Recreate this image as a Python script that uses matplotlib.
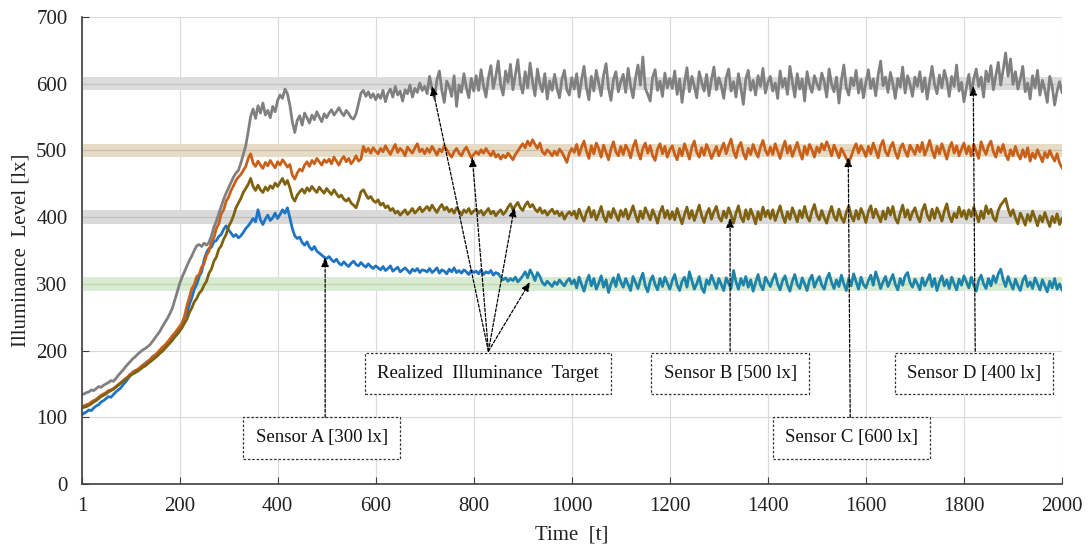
import matplotlib
matplotlib.use("Agg")
import matplotlib.pyplot as plt

plt.rcParams['font.family'] = ['Liberation Serif', 'DejaVu Serif']

# ---------------- data ----------------
t_vals = [1] + list(range(5, 2001, 5))

sensor_a = [104,
    106,108,111,110,114,117,119,123,125,128,131,130,134,138,141,144,149,153,158,163,
    168,170,169,174,178,181,184,186,191,193,195,199,204,207,212,216,219,224,228,233,
    240,249,256,269,279,292,299,311,318,336,347,353,355,363,365,371,374,382,387,381,
    376,371,374,369,372,377,383,387,392,398,393,411,396,389,397,403,395,399,406,398,
    404,411,406,414,399,383,372,368,370,362,358,363,355,351,356,349,346,343,340,338,
    341,336,333,337,331,328,333,329,326,331,334,329,327,332,328,325,330,326,323,327,
    324,321,326,320,323,327,319,322,325,318,321,324,320,316,322,319,323,317,321,320,
    318,323,317,320,324,316,321,319,315,322,318,324,317,320,316,321,318,314,320,317,
    319,315,321,314,318,316,320,313,317,315,310,306,309,304,308,305,310,303,307,312,
    318,309,321,314,305,317,311,302,298,304,300,296,303,299,306,301,297,304,308,300,
    306,294,310,299,289,303,313,297,308,292,301,312,295,306,287,300,309,296,314,303,
    295,308,299,290,311,302,293,306,316,297,288,304,312,299,291,308,296,310,301,292,
    305,314,298,290,304,310,295,318,305,292,300,311,294,287,306,299,313,303,293,308,
    299,290,309,301,293,320,303,292,308,298,311,295,306,289,302,314,298,291,310,303,
    296,307,315,300,291,305,312,298,289,304,314,299,293,309,300,290,306,313,295,304,
    311,298,292,307,316,302,293,306,296,313,300,290,308,297,315,303,292,310,299,294,
    305,313,298,318,306,293,303,311,296,305,314,299,291,308,298,312,317,302,295,307,
    300,291,309,297,305,314,296,308,290,303,312,297,306,293,310,300,291,307,298,312,
    303,294,310,298,289,305,313,300,293,308,297,312,302,315,322,306,296,311,301,292,
    307,297,290,305,312,296,303,293,309,300,291,306,297,288,304,294,308,292,300,291]

sensor_b = [116,
    117,119,120,123,125,127,130,133,135,137,140,141,143,146,149,152,155,158,161,165,
    167,170,172,175,178,180,183,187,190,193,197,201,205,208,212,217,222,226,231,236,
    241,251,267,280,293,299,311,314,325,330,343,349,363,369,383,390,405,411,424,430,
    440,447,455,460,464,470,476,488,495,481,476,484,478,473,482,477,485,479,474,483,
    478,486,481,475,479,463,457,466,472,469,478,483,476,485,480,488,483,478,486,482,
    487,480,490,484,478,486,491,483,488,480,485,492,484,487,506,498,503,496,504,499,
    495,503,498,507,500,494,502,509,497,503,499,492,505,500,496,504,510,498,502,495,
    503,497,506,500,493,502,498,507,501,495,490,498,503,496,492,500,505,497,489,494,
    498,494,501,496,503,497,492,499,490,494,487,493,489,496,491,486,494,499,505,510,
    504,514,507,516,509,503,511,498,494,501,497,492,499,493,502,497,490,482,496,503,
    497,509,493,505,514,499,488,507,495,511,503,490,508,497,486,502,513,498,492,506,
    494,508,501,489,505,515,498,487,503,511,496,507,492,485,502,510,495,506,490,501,
    507,494,486,503,492,510,499,487,505,514,497,490,504,493,509,500,488,497,506,492,
    502,511,495,507,517,499,489,505,512,496,487,503,494,509,498,490,505,515,500,493,
    505,494,510,499,488,503,514,496,507,491,502,512,498,487,506,494,509,501,490,505,
    497,510,501,513,504,492,508,499,489,503,496,488,482,491,502,510,496,507,500,491,
    506,495,511,500,489,507,515,498,492,505,512,497,488,503,510,499,491,508,501,494,
    508,498,512,493,503,515,500,489,506,495,510,499,487,503,512,496,507,492,502,511,
    495,506,492,509,499,488,513,502,494,507,514,498,490,505,497,509,494,486,501,492,
    506,494,487,501,490,504,484,496,488,501,492,483,497,489,500,491,484,495,481,474]

sensor_c = [134,
    135,137,138,141,140,143,146,145,148,150,152,155,154,158,163,167,171,176,180,184,
    188,191,195,198,201,203,206,209,214,219,224,229,236,242,248,255,263,275,287,300,
    310,318,327,335,342,350,357,359,356,361,358,362,372,385,394,405,416,427,436,444,
    452,460,466,470,481,494,507,528,551,562,548,567,556,571,553,560,549,566,558,575,
    583,578,592,585,568,543,527,545,552,538,556,549,541,553,546,558,550,543,555,549,
    556,561,553,558,564,557,552,560,555,549,547,555,570,586,590,581,588,579,585,576,
    584,578,590,573,586,592,580,596,583,589,574,591,585,598,580,593,587,601,590,596,
    585,611,592,578,606,619,590,572,604,596,581,612,566,598,587,615,594,579,608,589,
    612,590,621,597,580,609,627,593,611,634,598,583,619,602,629,591,613,636,600,586,
    618,594,631,603,582,622,600,588,615,577,604,590,614,593,579,607,620,591,583,609,
    592,615,580,606,626,594,576,611,589,620,601,582,613,630,593,575,606,618,588,603,
    614,587,623,597,579,608,628,598,640,593,584,574,610,621,590,604,581,616,594,608,
    593,619,584,607,572,601,624,588,611,596,579,618,602,589,614,582,606,625,591,609,
    597,578,609,622,589,603,580,615,594,569,607,620,590,605,583,612,596,623,586,602,
    611,589,601,578,619,595,608,584,626,603,580,615,592,607,574,618,598,587,612,600,
    591,616,603,580,622,599,588,610,571,605,628,594,583,609,597,620,586,606,579,602,
    621,593,607,582,613,634,597,610,587,617,600,578,608,595,625,586,612,599,581,610,
    596,618,588,609,577,603,626,599,585,613,594,620,605,581,611,596,628,589,602,573,
    594,614,584,607,622,596,610,580,619,603,627,591,612,632,598,621,646,611,637,599,
    618,592,607,626,588,601,577,612,594,620,583,605,591,572,611,596,568,589,603,587]

sensor_d = [114,
    115,116,118,120,123,125,128,131,133,135,138,140,142,145,148,151,154,157,160,163,
    165,167,170,172,175,177,180,183,186,189,192,196,199,203,207,211,215,220,224,229,
    234,241,247,257,264,273,278,286,290,298,304,316,322,334,340,352,357,367,374,386,
    393,402,414,421,428,437,443,449,458,446,440,448,441,437,445,440,447,443,451,446,
    452,458,449,455,444,430,424,433,438,442,436,444,439,446,441,437,445,440,436,443,
    438,434,441,435,430,433,427,424,428,421,418,414,425,438,441,434,428,431,425,422,
    426,418,421,414,417,410,413,406,409,403,407,411,404,408,413,406,410,415,408,412,
    416,410,418,412,407,414,419,411,415,408,412,406,414,409,403,411,407,413,405,409,
    412,406,410,403,408,413,405,409,402,407,411,404,408,415,420,411,417,422,414,410,
    418,423,415,419,412,408,414,406,410,403,408,412,405,409,402,407,397,404,408,403,
    409,398,412,402,394,407,415,400,410,396,405,416,401,393,408,399,413,404,395,410,
    401,412,397,406,417,403,393,409,398,414,405,396,411,402,391,407,416,399,410,397,
    408,396,413,401,390,404,415,398,410,395,406,418,402,392,405,413,397,408,416,400,
    394,409,399,414,403,391,406,417,400,393,411,397,412,402,390,408,396,415,401,410,
    398,411,395,406,417,402,392,408,397,414,404,393,410,399,416,401,394,409,419,403,
    396,410,399,391,405,416,401,395,412,399,392,407,417,402,394,410,397,413,404,392,
    408,417,399,412,402,393,409,397,414,403,416,398,391,406,418,400,411,396,407,414,
    401,393,410,419,403,395,412,398,414,405,394,409,420,402,393,406,399,415,401,410,
    397,411,401,415,404,393,409,398,417,405,412,399,394,410,418,423,428,413,402,411,
    399,390,406,398,388,404,394,409,399,387,402,393,407,396,386,401,392,405,389,398]

targets = [600, 500, 400, 300]
target_labels = ["Sensor C [600 lx]", "Sensor B [500 lx]", "Sensor D [400 lx]", "Sensor A [300 lx]"]
x_ticks = [1, 200, 400, 600, 800, 1000, 1200, 1400, 1600, 1800, 2000]
y_ticks = [0, 100, 200, 300, 400, 500, 600, 700]

for name, s in [("A", sensor_a), ("B", sensor_b), ("C", sensor_c), ("D", sensor_d)]:
    if len(s) != len(t_vals):
        raise ValueError(f"series {name}: {len(s)} vs {len(t_vals)}")

# ---------------- figure ----------------
fig = plt.figure(figsize=(10.9, 5.49), dpi=100)
ax = fig.add_axes([82/1090, 65/549, 980/1090, 467/549])

band_colors = {600: ("#DCDCDC", "#C4C4C4"), 500: ("#E6DCC6", "#CDBF9F"),
               400: ("#DADADA", "#C2C2C2"), 300: ("#D9EBD2", "#BDDBB2")}
for tg in targets:
    fc, lc = band_colors[tg]
    ax.axhspan(tg - 10, tg + 10, color=fc, lw=0, zorder=1)
    ax.axhline(tg, color=lc, lw=0.9, zorder=1.1)

lw = 2.0
split = t_vals.index(850)
ax.plot(t_vals[:split + 1], sensor_a[:split + 1], color="#1F74C4", lw=lw, zorder=3)
ax.plot(t_vals[split:], sensor_a[split:], color="#1E83AB", lw=lw, zorder=3)
ax.plot(t_vals, sensor_b, color="#C9601A", lw=lw, zorder=3)
ax.plot(t_vals, sensor_c, color="#808080", lw=lw, zorder=3)
ax.plot(t_vals, sensor_d, color="#7F6210", lw=lw, zorder=3)

ax.set_xlim(1, 2000)
ax.set_ylim(0, 700)
ax.set_xticks(x_ticks)
ax.set_yticks(y_ticks)
ax.grid(True, color="#D9D9D9", lw=0.8, zorder=0)
ax.set_axisbelow(True)
for side in ["top", "right"]:
    ax.spines[side].set_visible(False)
for side in ["left", "bottom"]:
    ax.spines[side].set_color("#404040")
    ax.spines[side].set_linewidth(1.2)
    ax.spines[side].set_zorder(4)
ax.tick_params(axis="both", direction="in", length=5, color="#404040",
               labelsize=15, labelcolor="#222222")
ax.tick_params(axis="y", pad=10.5)
ax.tick_params(axis="x", pad=9.5)

ax.set_xlabel("Time  [t]", fontsize=15, color="#222222")
ax.set_ylabel("Illuminance  Level [lx]", fontsize=15, color="#222222")
ax.xaxis.set_label_coords(0.5, -0.088)
ax.yaxis.set_label_coords(-0.053, 0.5)

# ---------------- annotations ----------------
box = dict(boxstyle="square,pad=0.65", fc="white", ec="#333333",
           lw=0.9, ls=(0, (2, 1.5)))
arrow = dict(arrowstyle="-|>,head_length=0.55,head_width=0.22", color="black",
             lw=0.9, ls=(0, (2.5, 1.5)), shrinkA=0, shrinkB=0)

def label_with_arrows(text, center, start, ends):
    ax.text(center[0], center[1], text, ha="center", va="center", fontsize=13.5,
            bbox=box, zorder=6, color="#111111")
    for e in ends:
        ax.annotate("", xy=e, xytext=start, arrowprops=arrow, zorder=7)

label_with_arrows(target_labels[3], (490, 69), (497, 100), [(497, 340)])
label_with_arrows("Realized  Illuminance  Target", (829, 166), (830, 199),
                  [(715, 597), (797, 490), (883, 415), (915, 303)])
label_with_arrows(target_labels[1], (1323, 166), (1323, 199), [(1323, 399)])
label_with_arrows(target_labels[0], (1570, 69), (1568, 100), [(1564, 490)])
label_with_arrows(target_labels[2], (1821, 166), (1823, 199), [(1819, 597)])

fig.savefig("out.png", dpi=100)
